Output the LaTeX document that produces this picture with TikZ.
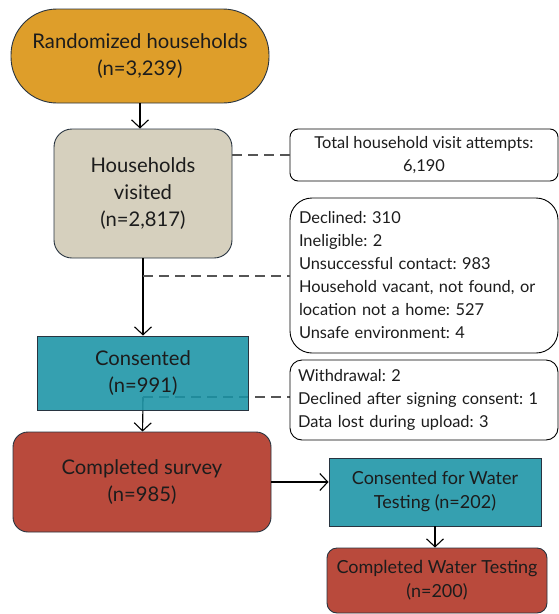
\documentclass[tikz,border=0pt]{standalone}
\usepackage{fontspec}
\setmainfont{Lato}
\usetikzlibrary{arrows.meta,backgrounds}

\definecolor{randgold}{RGB}{222,158,42}
\definecolor{visitbeige}{RGB}{214,208,190}
\definecolor{consentteal}{RGB}{53,160,176}
\definecolor{consentdeep}{RGB}{25,147,165}
\definecolor{surveyred}{RGB}{185,74,60}
\definecolor{boxline}{RGB}{40,52,64}
\definecolor{textdark}{RGB}{28,28,28}
\definecolor{dashgray}{RGB}{85,85,85}

\newcommand{\boxfont}{\fontsize{20.2}{27}\selectfont}
\newcommand{\waterfont}{\fontsize{18}{24}\selectfont}
\newcommand{\sidefont}{\fontsize{16.4}{23}\selectfont}

\frenchspacing

\begin{document}
\begin{tikzpicture}[x=1pt, y=-1pt, >={Straight Barb[length=8pt,width=17pt]},
    flowbox/.style={draw=boxline, line width=0.9pt, text=textdark, inner sep=0pt, align=center},
    sidebox/.style={draw=black, line width=0.9pt, text=textdark, inner sep=0pt, font=\sidefont},
    dashlink/.style={dashgray, line width=1.2pt, dash pattern=on 10pt off 6pt},
    flowlink/.style={->, black, line width=1.1pt}]
    %--------------------%
    % Parameters
    %--------------------%
    \def\sidex{424}
    \def\sidewidth{268}
    \def\mainx{143}

    \useasboundingbox (0,0) rectangle (559,614);

    %--------------------%
    % Main Flow
    %--------------------%
    \node[flowbox, fill=randgold, rounded corners=46pt, minimum width=258, minimum height=94, font=\boxfont] (random) at (140,56) {Randomized households\\(n=3,239)};
    \node[flowbox, fill=visitbeige, rounded corners=18pt, minimum width=178, minimum height=129, font=\boxfont] (visited) at (\mainx,193.5) {Households\\visited\\(n=2,817)};
    \node[flowbox, fill=consentdeep, fill opacity=0.88, text opacity=1, minimum width=211, minimum height=74, font=\boxfont] (consented) at (\mainx,373) {Consented\\(n=991)};
    \node[flowbox, fill=surveyred, rounded corners=15pt, minimum width=258, minimum height=100, font=\boxfont] (survey) at (142,482) {Completed survey\\(n=985)};

    %--------------------%
    % Water Testing
    %--------------------%
    \node[flowbox, fill=consentteal, minimum width=212, minimum height=68, font=\waterfont] (waterconsent) at (435,492) {Consented for Water\\Testing (n=202)};
    \node[flowbox, fill=surveyred, rounded corners=10pt, minimum width=220, minimum height=65, font=\waterfont] (watertest) at (437,580.5) {Completed Water Testing\\(n=200)};

    %--------------------%
    % Side Boxes
    %--------------------%
    \node[sidebox, rounded corners=8pt, minimum width=\sidewidth, minimum height=52, align=center] (attempts) at (\sidex,155) {Total household visit attempts:\\6,190};
    \node[sidebox, rounded corners=22pt, minimum width=\sidewidth, minimum height=155, text width=250, align=left] (notconsent) at (\sidex,275.5) {Declined: 310\\Ineligible: 2\\Unsuccessful contact: 983\\Household vacant, not found, or\\location not a home: 527\\Unsafe environment: 4};
    \node[sidebox, rounded corners=12pt, minimum width=\sidewidth, minimum height=80, text width=252, align=left] (notsurvey) at (\sidex,400) {Withdrawal: 2\\Declined after signing consent: 1\\Data lost during upload: 3};

    %--------------------%
    % Connections
    %--------------------%
    \coordinate (split1) at (\mainx,276);
    \coordinate (split2) at (\mainx,397);

    \draw[flowlink] (random) -- (random |- visited.north);
    \draw[flowlink] (visited) -- (consented);
    \draw[flowlink] (survey.east) -- (survey.east -| waterconsent.west);
    \draw[flowlink] (waterconsent) -- (waterconsent |- watertest.north);

    \draw[dashlink] (attempts.west -| visited.east) -- (attempts.west);
    \draw[dashlink] (split1) -- (split1 -| notconsent.west);

    \begin{scope}[on background layer]
        \draw[flowlink] (split2) -- (survey);
        \draw[dashlink] (split2) -- (split2 -| notsurvey.west);
    \end{scope}

\end{tikzpicture}
\end{document}
